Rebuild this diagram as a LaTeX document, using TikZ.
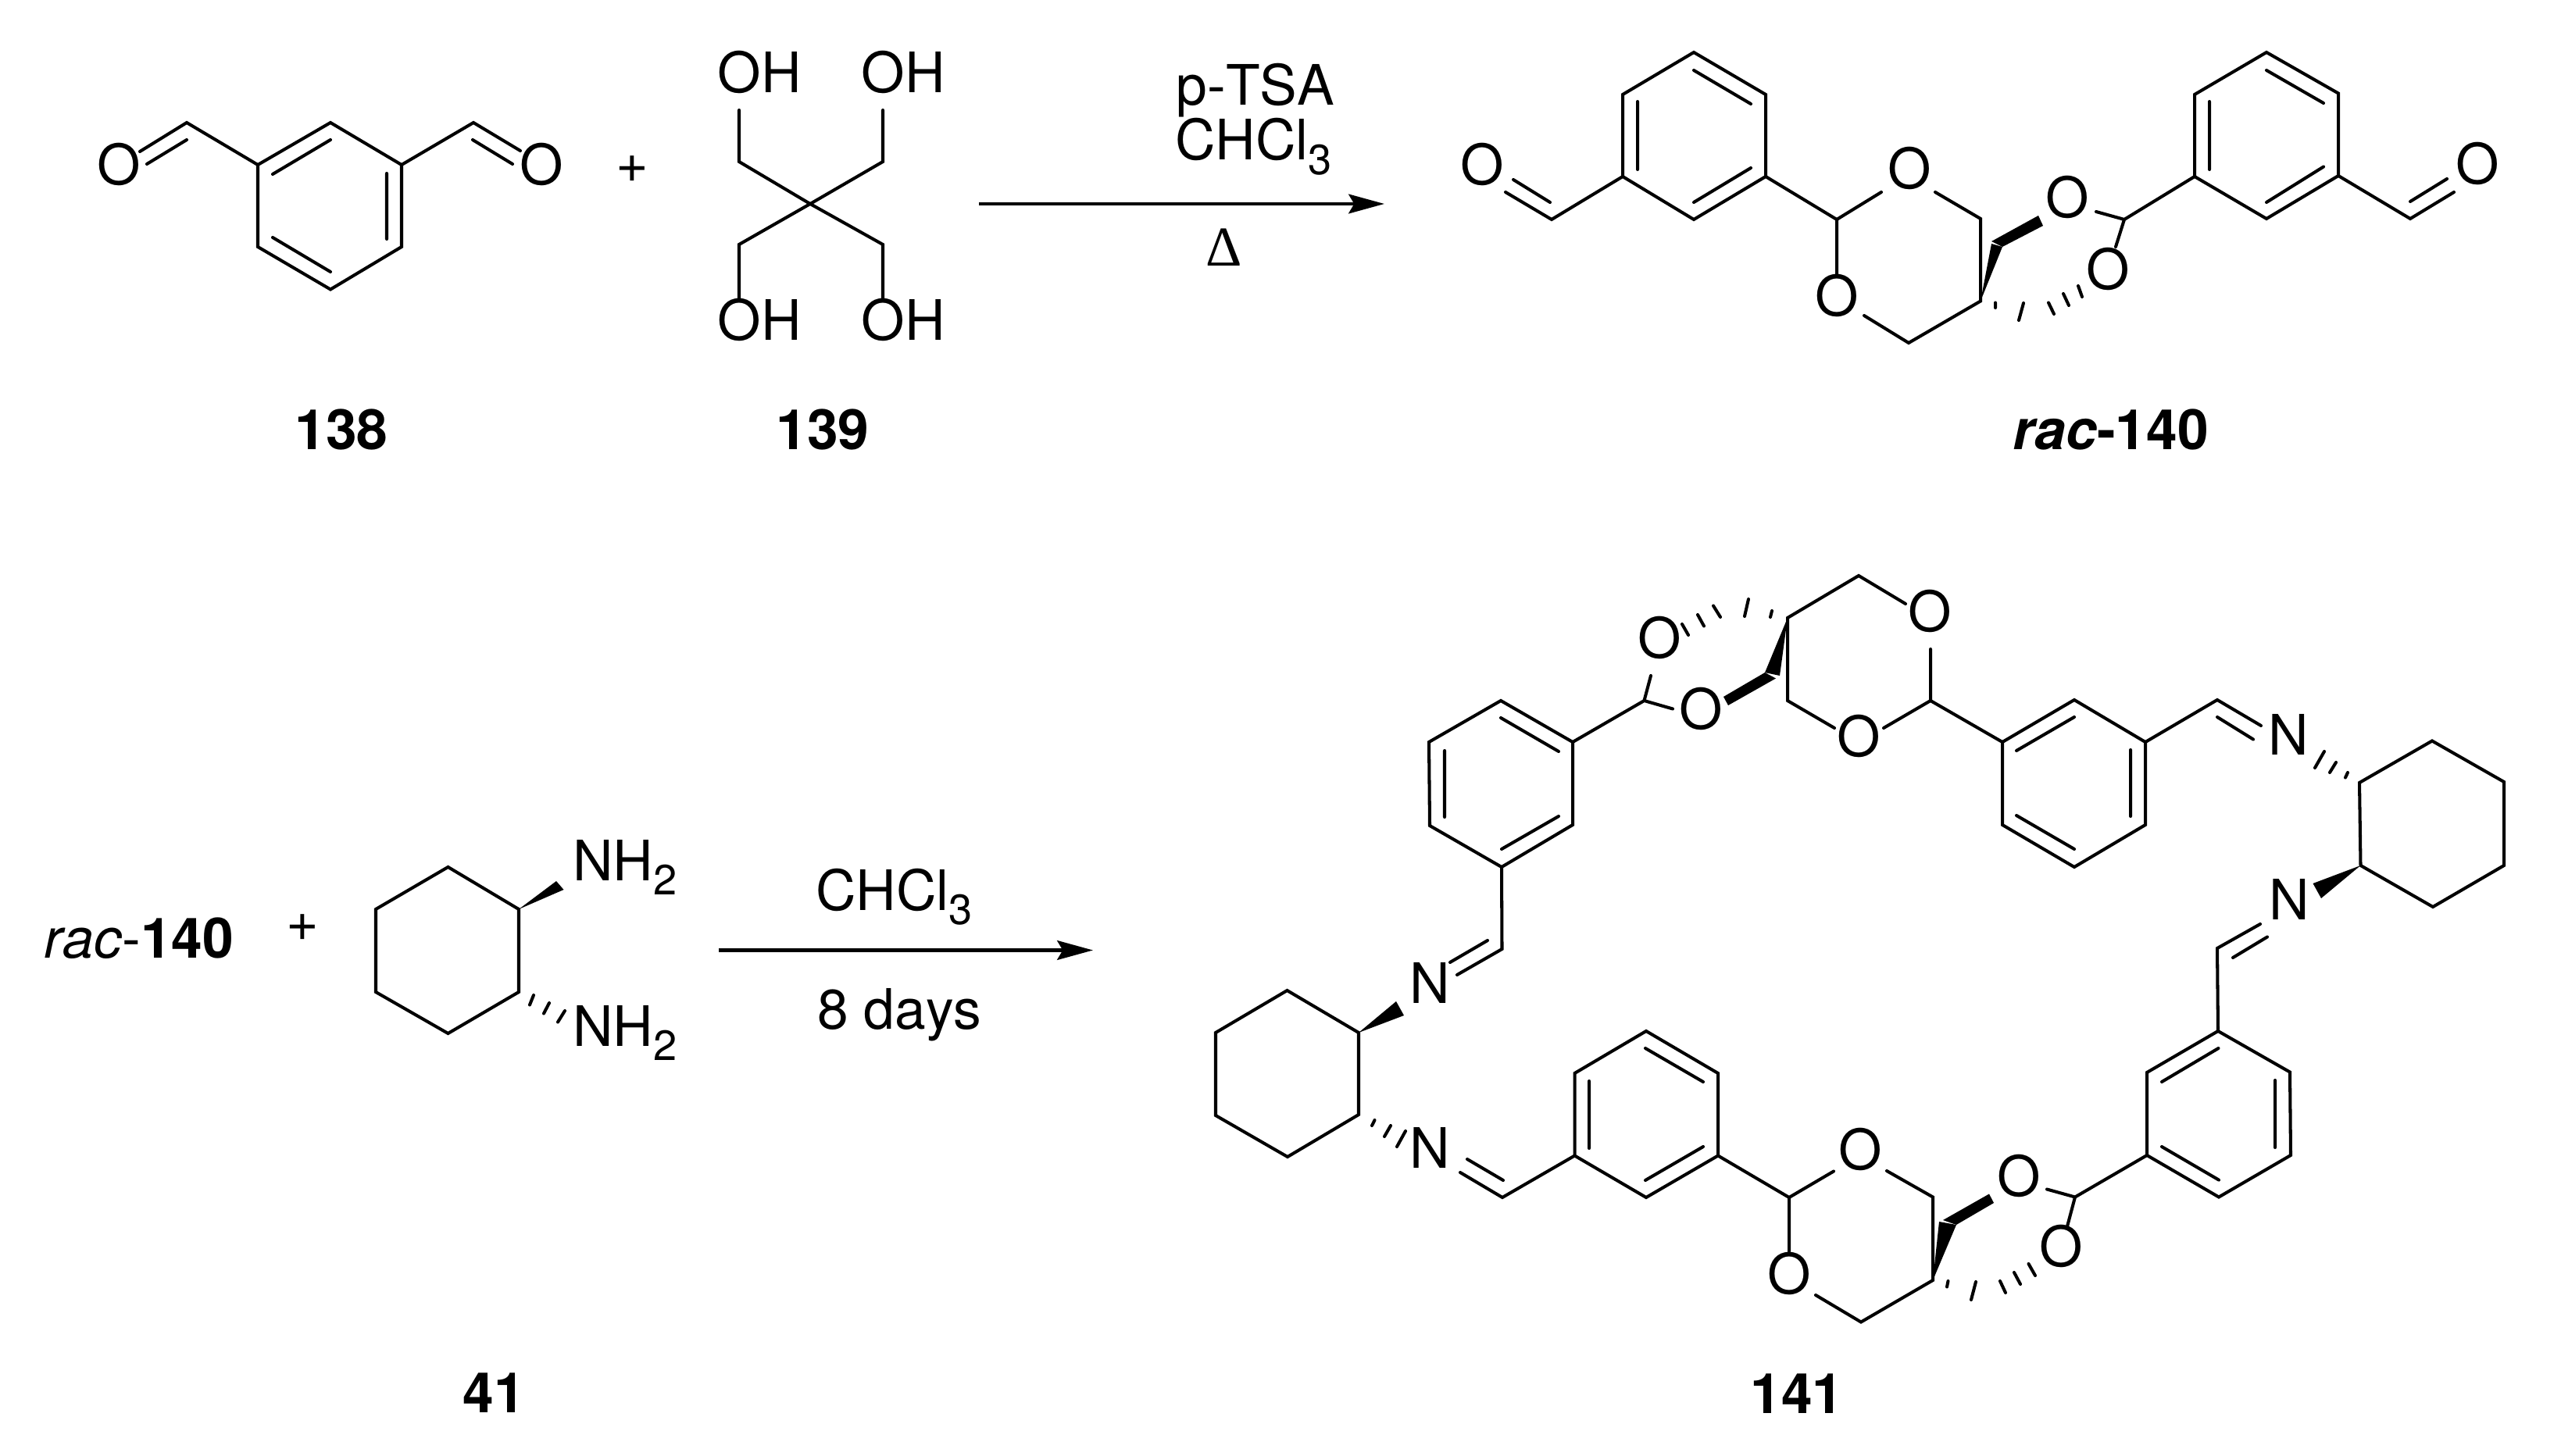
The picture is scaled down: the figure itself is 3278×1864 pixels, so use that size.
\documentclass[tikz,border=0pt]{standalone}
\usepackage{fontspec}
\usetikzlibrary{arrows.meta}
\setmainfont[Kerning=Off]{TeX Gyre Heros}
\newfontfamily\deltafont{Liberation Serif}
\newcommand{\subscr}[1]{\raisebox{-5.2pt}{\fontsize{15.4}{15.4}\selectfont #1}}
\tikzset{
  bondline/.style={line width=1.15pt,line join=miter,miter limit=10,line cap=round},
  wedgefill/.style={fill=black,draw=none},
  atomtext/.style={inner sep=0pt,font=\fontsize{20.3}{24}\selectfont},
  basetext/.style={atomtext,anchor=base},
  boldlabel/.style={basetext,font=\fontsize{20.3}{24}\selectfont\bfseries},
  reactarrow/.style={line width=1.4pt,-{Stealth[length=13pt,width=7pt,inset=2pt]}}
}
\begin{document}
\begin{tikzpicture}[x=0.01cm,y=-0.01cm]
\useasboundingbox (0,0) rectangle (3278,1864);
% ---------- named points
\foreach \n/\x/\y in {
 % 138
 a1/423/157,a2/514/211,a3/514/316,a4/423/370.5,a5/330/316,a6/330/211,aL/239/157,aR/606/157,aLe/179/194,aRe/666/193,
 % 139
 bc/1037/261,b1/946/207,b2/1130/207,b3/946/313,b4/1130/313,b1e/946/141,b2e/1130/141,b3e/946/383,b4e/1130/383,
 % 140
 c1/2168/67,c2/2260/121,c3/2260/226,c4/2168/281,c5/2077/226,c6/2077/121,cL/1986/281,cLe/1927/246,
 cA/2351/281,cAo/2408/246,cAb/2351/351,cO/2477/246,cM/2535/280,cS/2535/385.5,cN/2443/439,cNe/2386/404,
 cB/2719/281,cBo/2683/271,cBb/2708/316,
 d1/2901/67,d2/2993/119.5,d3/2993/225,d4/2901/280,d5/2809/226,d6/2809/121,dR/3085/280,dRe/3141/246,
 % 41
 e1/573.5/1110,e2/664/1164,e3/664/1270,e4/573.5/1323,e5/481/1270,e6/481/1164,
 % 141 upper-left aryl
 f1/1921/897,f2/2013/950,f3/2013/1056,f4/1922/1110,f5/1830/1057,f6/1829/950,
 fA/2104.5/897,fAo/2113/865,fAb/2141/907.5,fI/1922.5/1215,fIe/1865/1248,
 % upper spiro
 gS/2288/791,gT/2379/737,gTe/2439/773,gB/2288/897,gBe/2348/932,gC/2471/897,gCu/2471/831,gCl/2411/932,
 % upper-right aryl
 h1/2655/896,h2/2746/950,h3/2746/1056,h4/2655/1110,h5/2563/1056,h6/2563/950,hI/2838/896,hIe/2894/929,
 % right cyclohexane
 i1/3113/948.5,i2/3205/1001,i3/3205/1108,i4/3114/1161,i5/3021.5/1108,i6/3020/1002,
 jI/2838/1214,jIe/2893/1183,
 % lower-right aryl
 k1/2839/1320,k2/2931/1372.5,k3/2932/1479,k4/2840/1532.5,k5/2748/1479,k6/2748/1373,
 kA/2656/1532.5,kAo/2620/1522.5,kAb/2646/1570,
 % lower spiro
 lS/2474/1639,lM/2474/1532.5,lMe/2415/1499,lN/2382/1692.5,lNe/2324/1658,lC/2290/1533,lCu/2347/1499.5,lCd/2290/1602,
 % lower-left aryl
 m1/2107/1320,m2/2199/1374,m3/2199/1479.5,m4/2107/1533,m5/2015.5/1479.5,m6/2015.5/1374,mI/1923/1533,mIe/1869/1501,
 % left cyclohexane
 n1/1647.5/1268,n2/1739/1322,n3/1739/1427,n4/1648/1481,n5/1556/1428,n6/1556/1322,
 % arrows
 r1s/1253/261,r1e/1772/261,r2s/920/1216.5,r2e/1399/1216.5}
 {\coordinate (\n) at (\x,\y);}
% ---------- 138
\draw[bondline] (a1)--(a2)--(a3)--(a4)--(a5)--(a6)--cycle (a6)--(aL)--(aLe) (a2)--(aR)--(aRe);
\draw[bondline] (239,179)--(188,210) (605,179)--(656,210) (423,179)--(349,223) (495,222)--(495,306) (349,304)--(423,348);
\node[atomtext] (oa1) at (152,210) {O};
\node[atomtext] (oa2) at (693,210) {O};
\node[atomtext] (plus1) at (809,217) {+};
\node[boldlabel] (l138) at (437,576) {138};
% ---------- 139
\draw[bondline] (b1e)--(b1)--(bc)--(b4)--(b4e) (b2e)--(b2)--(bc)--(b3)--(b3e);
\node[basetext] (oh1) at (972.5,118.6) {OH};
\node[basetext] (oh2) at (1156,118.6) {OH};
\node[basetext] (oh3) at (972.5,436) {OH};
\node[basetext] (oh4) at (1156,436) {OH};
\node[boldlabel] (l139) at (1053,576) {139};
% ---------- arrow 1
\draw[reactarrow] (r1s)--(r1e);
\node[basetext] (t1) at (1607,135) {p-TSA};
\node[basetext] (t2) at (1604.5,205) {CHCl\subscr{3}};
\node[basetext,font=\fontsize{20.5}{24}\selectfont\deltafont] (t3) at (1566.5,341) {Δ};
% ---------- rac-140
\draw[bondline] (c1)--(c2)--(c3)--(c4)--(c5)--(c6)--cycle (c5)--(cL)--(cLe) (c3)--(cA)--(cAo) (cA)--(cAb)
  (cO)--(cM)--(cS)--(cN)--(cNe);
\draw[bondline] (2168,90)--(2241,133) (2096,130)--(2096,217) (2241,215)--(2168,259) (1984,259)--(1937,230);
\draw[wedgefill] (cS)--(2549,312)--(2563,316)--cycle;
\draw[wedgefill] (2549,309)--(2563,316)--(2615,289)--(2609,276)--cycle;
\draw[bondline] (2554,387.5)--(2554,394) (2590,388)--(2584,410) (2622,387.5)--(2629,402) (2641,376)--(2648,391) (2660,366)--(2665,380);
\draw[bondline] (cBo)--(cB)--(cBb) (cB)--(d5);
\draw[bondline] (d1)--(d2)--(d3)--(d4)--(d5)--(d6)--cycle (d3)--(dR)--(dRe);
\draw[bondline] (2901,90)--(2974,132) (2828,130)--(2828,217) (2974,213.5)--(2901,259) (3085,258)--(3132,229);
\node[atomtext] (oc1) at (1897,210) {O};
\node[atomtext] (oc2) at (2444,215) {O};
\node[atomtext] (oc3) at (2351,378) {O};
\node[atomtext] (oc4) at (2646,252) {O};
\node[atomtext] (oc5) at (2698,344) {O};
\node[atomtext] (oc6) at (3171,209) {O};
\node[boldlabel] (l140) at (2702,575) {\textit{rac}-140};
% ---------- 41
\node[basetext] (t4) at (178,1226) {\textit{rac}-\textbf{140}};
\node[atomtext] (plus2) at (387,1188) {+};
\draw[bondline] (e1)--(e2)--(e3)--(e4)--(e5)--(e6)--cycle;
\draw[wedgefill] (e2)--(712,1128)--(721.5,1139)--cycle;
\draw[bondline] (683,1274)--(678,1286.5) (703,1284)--(696,1297.5) (723,1294)--(714,1308.5);
\node[basetext] (nh1) at (800,1127) {NH\subscr{2}};
\node[basetext] (nh2) at (800,1339) {NH\subscr{2}};
\node[boldlabel] (l41) at (632.5,1808) {41};
% ---------- arrow 2
\draw[reactarrow] (r2s)--(r2e);
\node[basetext] (t5) at (1144.5,1165) {CHCl\subscr{3}};
\node[basetext] (t6) at (1151.5,1317) {8 days};
% ---------- 141
\draw[bondline] (f1)--(f2)--(f3)--(f4)--(f5)--(f6)--cycle (f2)--(fA)--(fAo) (fA)--(fAb) (f4)--(fI)--(fIe);
\draw[bondline] (1921,919)--(1995,962) (1849,961)--(1849,1046) (1922,1087)--(1995,1045) (1904,1204)--(1856,1232);
\draw[wedgefill] (gS)--(2259,861)--(2278,865)--cycle;
\draw[wedgefill] (2206,892)--(2212,903)--(2273,868.5)--(2259,861)--cycle;
\draw[bondline] (2268,782)--(2266,790) (2238,767)--(2233,789) (2193,775.5)--(2202,790) (2173,787)--(2181,801.5) (2153,799)--(2161,813);
\draw[bondline] (gTe)--(gT)--(gS)--(gB)--(gBe) (gCl)--(gC)--(gCu) (gC)--(h6);
\draw[bondline] (h1)--(h2)--(h3)--(h4)--(h5)--(h6)--cycle (h2)--(hI)--(hIe);
\draw[bondline] (2655,918)--(2581,961) (2727,960)--(2727,1045) (2581,1044)--(2655,1087) (2838,918)--(2884,946.5);
\draw[bondline] (i1)--(i2)--(i3)--(i4)--(i5)--(i6)--cycle;
\draw[bondline] (2975,962)--(2963,983) (2990,976)--(2982,989) (3005,989)--(3002,995.5);
\draw[wedgefill] (i5)--(2960.5,1131)--(2971,1150)--cycle;
\draw[bondline] (k1)--(jI)--(jIe) (2858,1226)--(2902,1199.5);
\draw[bondline] (k1)--(k2)--(k3)--(k4)--(k5)--(k6)--cycle (k5)--(kA)--(kAo) (kA)--(kAb);
\draw[bondline] (2839.5,1342)--(2767,1385) (2912,1383)--(2912,1469) (2767,1468)--(2840,1510.6);
\draw[wedgefill] (lS)--(2482,1564)--(2504,1568)--cycle;
\draw[wedgefill] (2487,1562)--(2504,1568)--(2552,1540)--(2546,1528.5)--cycle;
\draw[bondline] (2493.5,1640)--(2492,1647.5) (2529,1641)--(2523,1664) (2560,1640)--(2567,1655) (2578,1629)--(2586,1644) (2596.5,1618)--(2605,1633);
\draw[bondline] (lMe)--(lM)--(lS)--(lN)--(lNe) (lCu)--(lC)--(lCd) (lC)--(m3);
\draw[bondline] (m1)--(m2)--(m3)--(m4)--(m5)--(m6)--cycle (m5)--(mI)--(mIe);
\draw[bondline] (2106,1342)--(2180,1385) (2034,1384)--(2034,1470) (2180,1468)--(2106,1511) (1878,1484)--(1924,1511);
\draw[bondline] (n1)--(n2)--(n3)--(n4)--(n5)--(n6)--cycle;
\draw[wedgefill] (n2)--(1787,1282)--(1797,1300)--cycle;
\draw[bondline] (1759.5,1434)--(1756,1441) (1780,1441)--(1772,1455) (1799,1448)--(1788,1468);
\node[atomtext] (og1) at (2124,816) {O};
\node[atomtext] (og2) at (2177,907.5) {O};
\node[atomtext] (og3) at (2379,942) {O};
\node[atomtext] (og4) at (2470,782) {O};
\node[atomtext] (nf1) at (1830,1258) {N};
\node[atomtext] (nh3) at (2929,940) {N};
\node[atomtext] (nj1) at (2930,1151) {N};
\node[atomtext] (nm1) at (1830,1469) {N};
\node[atomtext] (ok1) at (2584,1505) {O};
\node[atomtext] (ok2) at (2638,1595) {O};
\node[atomtext] (ol1) at (2381,1471) {O};
\node[atomtext] (ol2) at (2290,1630) {O};
\node[boldlabel] (l141) at (2300,1809) {141};
\end{tikzpicture}
\end{document}
